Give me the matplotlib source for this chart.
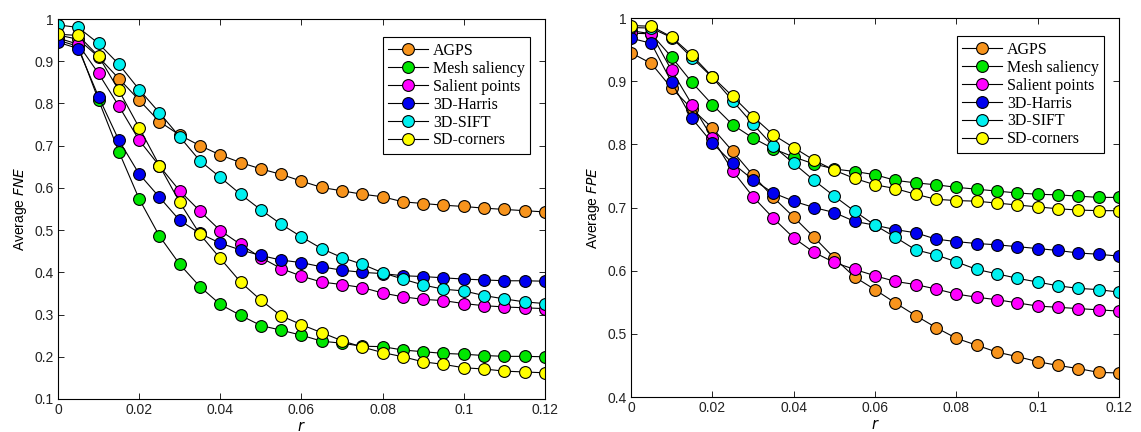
import numpy as np
from matplotlib import pyplot as plt

# r 取值
r = [0, 0.005, 0.01, 0.015, 0.02, 0.025, 0.03, 0.035, 0.04, 0.045, 0.05, 0.055, 0.06,
     0.065, 0.07, 0.075, 0.08, 0.085, 0.09, 0.095, 0.1, 0.105, 0.11, 0.115, 0.12]

labels = ['AGPS', 'Mesh saliency', 'Salient points', '3D-Harris', '3D-SIFT', 'SD-corners']
colors = ['#f7941d', '#00e600', '#ff00ff', '#0000f0', '#00f0f0', '#ffff00']

# 左图 Average FNE
fne_agps = [0.962, 0.952, 0.910, 0.859, 0.808, 0.757, 0.725, 0.700, 0.678, 0.660, 0.645, 0.632, 0.616,
            0.601, 0.593, 0.585, 0.579, 0.567, 0.563, 0.559, 0.556, 0.552, 0.549, 0.546, 0.543]
fne_mesh = [0.950, 0.935, 0.808, 0.686, 0.574, 0.486, 0.419, 0.366, 0.324, 0.298, 0.274, 0.263, 0.251,
            0.237, 0.232, 0.225, 0.224, 0.216, 0.212, 0.208, 0.206, 0.203, 0.201, 0.201, 0.200]
fne_salient = [0.955, 0.940, 0.871, 0.794, 0.713, 0.652, 0.593, 0.545, 0.499, 0.466, 0.435, 0.409, 0.391,
               0.377, 0.371, 0.364, 0.351, 0.342, 0.336, 0.333, 0.326, 0.321, 0.318, 0.316, 0.314]
fne_harris = [0.945, 0.930, 0.816, 0.713, 0.633, 0.578, 0.523, 0.492, 0.469, 0.453, 0.440, 0.429, 0.423,
              0.413, 0.405, 0.400, 0.397, 0.392, 0.390, 0.387, 0.384, 0.382, 0.380, 0.380, 0.379]
fne_sift = [0.986, 0.980, 0.942, 0.893, 0.833, 0.778, 0.721, 0.664, 0.625, 0.585, 0.548, 0.514, 0.484,
            0.456, 0.435, 0.419, 0.399, 0.384, 0.370, 0.360, 0.356, 0.345, 0.337, 0.330, 0.326]
fne_sd = [0.964, 0.961, 0.912, 0.831, 0.743, 0.653, 0.566, 0.490, 0.433, 0.377, 0.334, 0.297, 0.276,
          0.257, 0.238, 0.223, 0.210, 0.200, 0.188, 0.182, 0.174, 0.171, 0.166, 0.164, 0.162]

# 右图 Average FPE
fpe_agps = [0.945, 0.928, 0.889, 0.856, 0.826, 0.789, 0.751, 0.716, 0.685, 0.653, 0.620, 0.590, 0.570,
            0.549, 0.529, 0.510, 0.493, 0.482, 0.471, 0.464, 0.456, 0.450, 0.445, 0.439, 0.438]
fpe_mesh = [0.980, 0.975, 0.938, 0.898, 0.863, 0.831, 0.810, 0.793, 0.780, 0.769, 0.761, 0.757, 0.752,
            0.743, 0.739, 0.736, 0.732, 0.729, 0.726, 0.723, 0.721, 0.720, 0.718, 0.716, 0.716]
fpe_salient = [0.976, 0.975, 0.917, 0.863, 0.810, 0.758, 0.717, 0.683, 0.652, 0.629, 0.613, 0.602, 0.592,
               0.583, 0.578, 0.571, 0.563, 0.558, 0.554, 0.549, 0.544, 0.542, 0.540, 0.538, 0.536]
fpe_harris = [0.968, 0.960, 0.898, 0.841, 0.802, 0.770, 0.744, 0.723, 0.710, 0.700, 0.692, 0.678, 0.672,
              0.665, 0.660, 0.650, 0.646, 0.643, 0.641, 0.638, 0.635, 0.632, 0.628, 0.626, 0.623]
fpe_sift = [0.985, 0.984, 0.969, 0.937, 0.906, 0.869, 0.832, 0.797, 0.770, 0.743, 0.718, 0.694, 0.672,
            0.653, 0.633, 0.625, 0.614, 0.602, 0.595, 0.588, 0.582, 0.576, 0.572, 0.570, 0.566]
fpe_sd = [0.988, 0.987, 0.970, 0.941, 0.907, 0.876, 0.844, 0.815, 0.795, 0.775, 0.759, 0.746, 0.736,
          0.730, 0.721, 0.713, 0.711, 0.710, 0.707, 0.704, 0.701, 0.698, 0.696, 0.695, 0.695]

x_ticks = [0, 0.02, 0.04, 0.06, 0.08, 0.1, 0.12]
x_ticks_labels = ['0', '0.02', '0.04', '0.06', '0.08', '0.1', '0.12']

plt.rcParams['font.family'] = ['Liberation Sans', 'DejaVu Sans']

fig = plt.figure(figsize=(11.41, 4.32), dpi=100)
ax1 = fig.add_axes([0.0508, 0.0764, 0.4268, 0.8796])
ax2 = fig.add_axes([0.553, 0.081, 0.4277, 0.8773])


def draw(ax, series, ylim, yticks, ylabel):
    for y, c, lab in zip(series, colors, labels):
        ax.plot(r, y, linestyle='-', color='k', linewidth=0.8, marker='o', markersize=8.5,
                markerfacecolor=c, markeredgecolor='k', markeredgewidth=0.8, label=lab)
    ax.set_xlim(0, 0.12)
    ax.set_ylim(*ylim)
    ax.set_xticks(x_ticks, x_ticks_labels)
    ax.set_yticks(yticks, ['1' if t == 1 else '%.1f' % t for t in yticks])
    ax.tick_params(direction='in', top=True, right=True, labelsize=10, length=4.5, width=0.6,
                   colors='k', labelcolor='#222222', pad=3)
    for s in ax.spines.values():
        s.set_linewidth(0.8)
    ax.set_xlabel('$r$', fontsize=10.5, labelpad=2)
    ax.set_ylabel(ylabel, fontsize=10, labelpad=4)
    leg = ax.legend(loc='upper right', bbox_to_anchor=(0.97, 0.952), fancybox=False,
                    edgecolor='k', framealpha=1, prop={'family': 'Liberation Serif', 'size': 11.5},
                    labelspacing=0.12, handlelength=2.5, handletextpad=0.3, borderpad=0.35,
                    borderaxespad=0)
    leg.get_frame().set_linewidth(0.8)


draw(ax1, [fne_agps, fne_mesh, fne_salient, fne_harris, fne_sift, fne_sd],
     (0.1, 1), np.round(np.arange(0.1, 1.01, 0.1), 1), 'Average $\\it{FNE}$')
draw(ax2, [fpe_agps, fpe_mesh, fpe_salient, fpe_harris, fpe_sift, fpe_sd],
     (0.4, 1), np.round(np.arange(0.4, 1.01, 0.1), 1), 'Average $\\it{FPE}$')

plt.savefig('out.png', dpi=100)
